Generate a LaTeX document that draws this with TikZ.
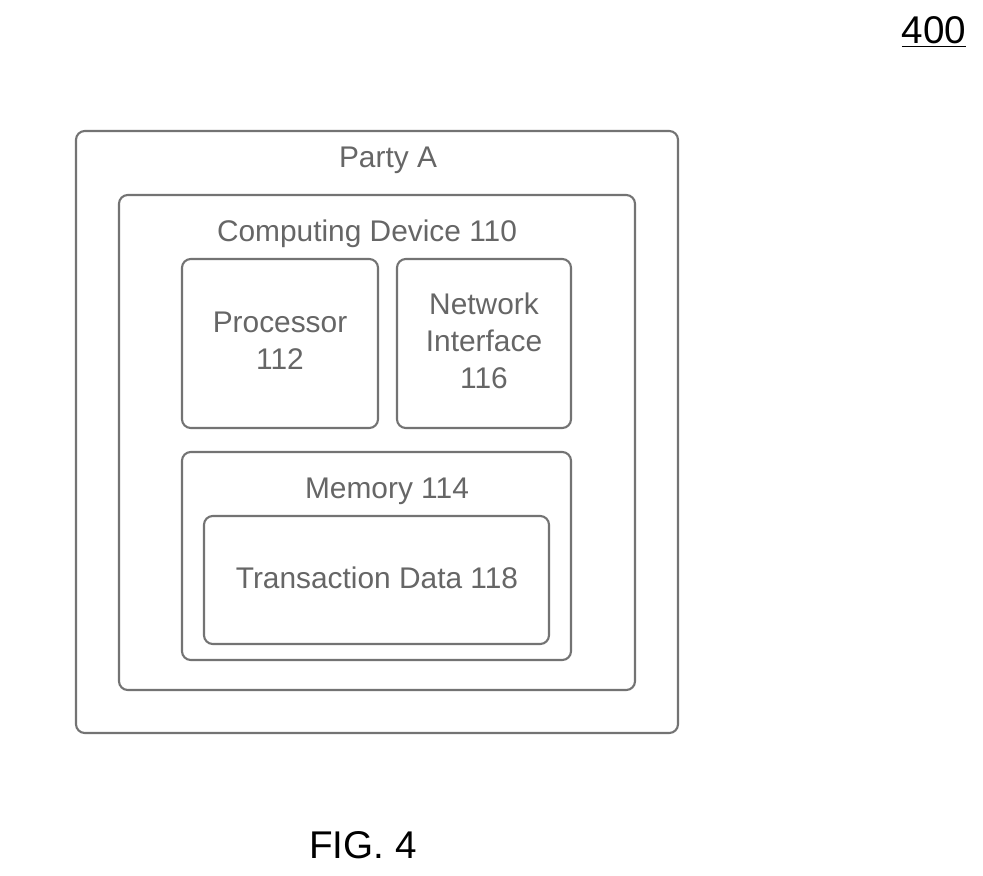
\documentclass[tikz,border=0pt]{standalone}
\usepackage{fontspec}
\setmainfont{Liberation Sans}
\usetikzlibrary{positioning}
\begin{document}
\begin{tikzpicture}[x=0.02cm,y=-0.02cm]
\tikzset{box/.style={draw=black!55,line width=1.2pt,rounded corners=5pt,inner sep=0pt},
         lbl/.style={text=black!60,font=\fontsize{17}{21}\selectfont,align=center}}
\useasboundingbox (0,0) rectangle (983,875);
% boxes
\draw[box](76,131) rectangle (678,733);
\draw[box](119,195) rectangle (635,690);
\draw[box](182,259) rectangle (378,428);
\draw[box](397,259) rectangle (571,428);
\draw[box](182,452) rectangle (571,660);
\draw[box](204,516) rectangle (549,644);
% labels
\node[lbl](party)at(388,160){Party A};
\node[lbl](comp)at(367,234){Computing Device 110};
\node[lbl](proc)at(280,341){Processor\\112};
\node[lbl](net)at(484,341){Network\\Interface\\116};
\node[lbl](mem)at(387,491){Memory 114};
\node[lbl](trans)at(377,578){Transaction Data 118};
\node[font=\fontsize{22}{26}\selectfont](num)at(934,32){\underline{400}};
\node[font=\fontsize{22}{26}\selectfont](fig)at(363,845){FIG. 4};
\end{tikzpicture}
\end{document}
